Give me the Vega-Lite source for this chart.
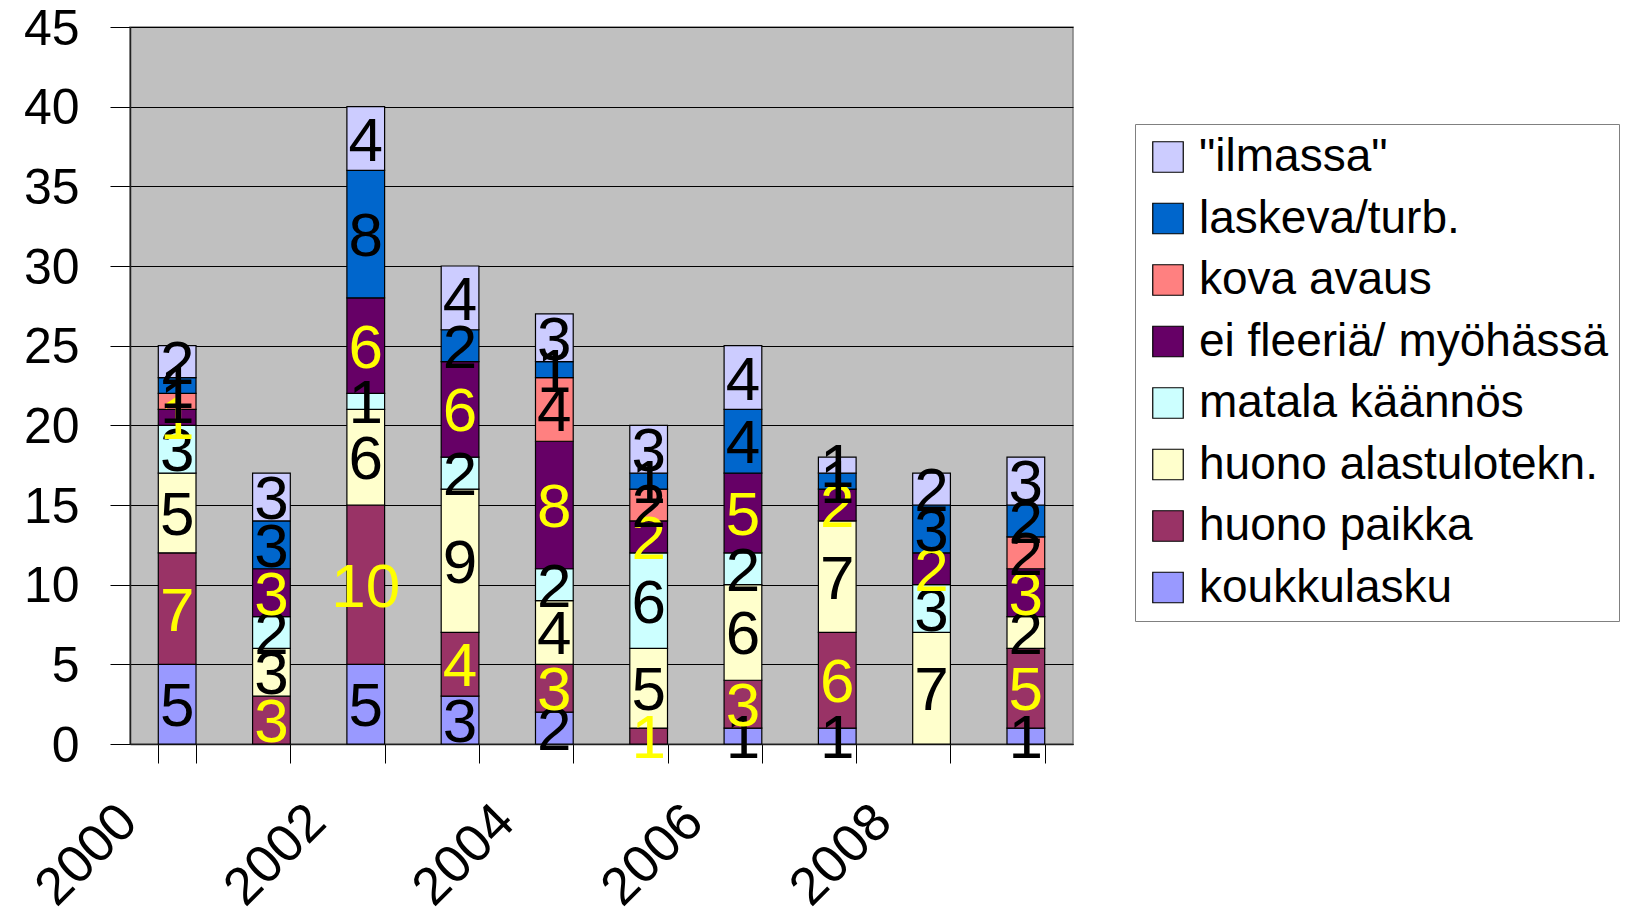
{
  "$schema": "https://vega.github.io/schema/vega-lite/v6.json",
  "width": 943,
  "height": 717,
  "autosize": "none",
  "padding": {"left": 130, "top": 27, "right": 553, "bottom": 176},
  "background": "white",
  "config": {
    "font": "Liberation Sans",
    "view": {"fill": "#C0C0C0", "stroke": "#808080", "strokeWidth": 1.5},
    "axis": {
      "labelFont": "Liberation Sans",
      "labelColor": "black",
      "tickColor": "black",
      "domainColor": "#202020",
      "tickWidth": 1,
      "domainWidth": 1.5
    }
  },
  "data": {
    "values": [
      {"year": "2000", "cause": "koukkulasku", "n": 5},
      {"year": "2000", "cause": "huono paikka", "n": 7},
      {"year": "2000", "cause": "huono alastulotekn.", "n": 5},
      {"year": "2000", "cause": "matala käännös", "n": 3},
      {"year": "2000", "cause": "ei fleeriä/ myöhässä", "n": 1},
      {"year": "2000", "cause": "kova avaus", "n": 1},
      {"year": "2000", "cause": "laskeva/turb.", "n": 1},
      {"year": "2000", "cause": "\"ilmassa\"", "n": 2},

      {"year": "2001", "cause": "huono paikka", "n": 3},
      {"year": "2001", "cause": "huono alastulotekn.", "n": 3},
      {"year": "2001", "cause": "matala käännös", "n": 2},
      {"year": "2001", "cause": "ei fleeriä/ myöhässä", "n": 3},
      {"year": "2001", "cause": "laskeva/turb.", "n": 3},
      {"year": "2001", "cause": "\"ilmassa\"", "n": 3},

      {"year": "2002", "cause": "koukkulasku", "n": 5},
      {"year": "2002", "cause": "huono paikka", "n": 10},
      {"year": "2002", "cause": "huono alastulotekn.", "n": 6},
      {"year": "2002", "cause": "matala käännös", "n": 1},
      {"year": "2002", "cause": "ei fleeriä/ myöhässä", "n": 6},
      {"year": "2002", "cause": "laskeva/turb.", "n": 8},
      {"year": "2002", "cause": "\"ilmassa\"", "n": 4},

      {"year": "2003", "cause": "koukkulasku", "n": 3},
      {"year": "2003", "cause": "huono paikka", "n": 4},
      {"year": "2003", "cause": "huono alastulotekn.", "n": 9},
      {"year": "2003", "cause": "matala käännös", "n": 2},
      {"year": "2003", "cause": "ei fleeriä/ myöhässä", "n": 6},
      {"year": "2003", "cause": "laskeva/turb.", "n": 2},
      {"year": "2003", "cause": "\"ilmassa\"", "n": 4},

      {"year": "2004", "cause": "koukkulasku", "n": 2},
      {"year": "2004", "cause": "huono paikka", "n": 3},
      {"year": "2004", "cause": "huono alastulotekn.", "n": 4},
      {"year": "2004", "cause": "matala käännös", "n": 2},
      {"year": "2004", "cause": "ei fleeriä/ myöhässä", "n": 8},
      {"year": "2004", "cause": "kova avaus", "n": 4},
      {"year": "2004", "cause": "laskeva/turb.", "n": 1},
      {"year": "2004", "cause": "\"ilmassa\"", "n": 3},

      {"year": "2005", "cause": "huono paikka", "n": 1},
      {"year": "2005", "cause": "huono alastulotekn.", "n": 5},
      {"year": "2005", "cause": "matala käännös", "n": 6},
      {"year": "2005", "cause": "ei fleeriä/ myöhässä", "n": 2},
      {"year": "2005", "cause": "kova avaus", "n": 2},
      {"year": "2005", "cause": "laskeva/turb.", "n": 1},
      {"year": "2005", "cause": "\"ilmassa\"", "n": 3},

      {"year": "2006", "cause": "koukkulasku", "n": 1},
      {"year": "2006", "cause": "huono paikka", "n": 3},
      {"year": "2006", "cause": "huono alastulotekn.", "n": 6},
      {"year": "2006", "cause": "matala käännös", "n": 2},
      {"year": "2006", "cause": "ei fleeriä/ myöhässä", "n": 5},
      {"year": "2006", "cause": "laskeva/turb.", "n": 4},
      {"year": "2006", "cause": "\"ilmassa\"", "n": 4},

      {"year": "2007", "cause": "koukkulasku", "n": 1},
      {"year": "2007", "cause": "huono paikka", "n": 6},
      {"year": "2007", "cause": "huono alastulotekn.", "n": 7},
      {"year": "2007", "cause": "ei fleeriä/ myöhässä", "n": 2},
      {"year": "2007", "cause": "laskeva/turb.", "n": 1},
      {"year": "2007", "cause": "\"ilmassa\"", "n": 1},

      {"year": "2008", "cause": "huono alastulotekn.", "n": 7},
      {"year": "2008", "cause": "matala käännös", "n": 3},
      {"year": "2008", "cause": "ei fleeriä/ myöhässä", "n": 2},
      {"year": "2008", "cause": "laskeva/turb.", "n": 3},
      {"year": "2008", "cause": "\"ilmassa\"", "n": 2},

      {"year": "2009", "cause": "koukkulasku", "n": 1},
      {"year": "2009", "cause": "huono paikka", "n": 5},
      {"year": "2009", "cause": "huono alastulotekn.", "n": 2},
      {"year": "2009", "cause": "ei fleeriä/ myöhässä", "n": 3},
      {"year": "2009", "cause": "kova avaus", "n": 2},
      {"year": "2009", "cause": "laskeva/turb.", "n": 2},
      {"year": "2009", "cause": "\"ilmassa\"", "n": 3}
    ]
  },
  "transform": [
    {
      "calculate": "indexof(['\"ilmassa\"', 'laskeva/turb.', 'kova avaus', 'ei fleeriä/ myöhässä', 'matala käännös', 'huono alastulotekn.', 'huono paikka', 'koukkulasku'], datum.cause)",
      "as": "stackRank"
    }
  ],
  "encoding": {
    "x": {
      "field": "year",
      "type": "ordinal",
      "title": null,
      "scale": {"paddingInner": 0.6, "paddingOuter": 0.3},
      "axis": {
        "tickBand": "extent",
        "tickSize": 19,
        "labelAngle": -45,
        "labelAlign": "right",
        "labelBaseline": "middle",
        "labelFontSize": 53,
        "labelOffset": -49,
        "labelPadding": 50,
        "labelExpr": "toNumber(datum.value) % 2 == 0 ? datum.label : ''",
        "grid": false
      }
    },
    "y": {
      "field": "n",
      "type": "quantitative",
      "title": null,
      "stack": "zero",
      "scale": {"domain": [0, 45], "nice": false},
      "axis": {
        "values": [0, 5, 10, 15, 20, 25, 30, 35, 40, 45],
        "tickSize": 20,
        "labelFontSize": 50,
        "labelOffset": 2,
        "labelPadding": 31,
        "grid": true,
        "gridColor": "#000000",
        "gridWidth": 1
      }
    },
    "order": {"field": "stackRank", "type": "quantitative", "sort": "descending"}
  },
  "layer": [
    {
      "mark": {"type": "bar", "stroke": "#000000", "strokeWidth": 1.2},
      "encoding": {
        "color": {
          "field": "cause",
          "type": "nominal",
          "sort": ["\"ilmassa\"", "laskeva/turb.", "kova avaus", "ei fleeriä/ myöhässä", "matala käännös", "huono alastulotekn.", "huono paikka", "koukkulasku"],
          "scale": {
            "domain": ["\"ilmassa\"", "laskeva/turb.", "kova avaus", "ei fleeriä/ myöhässä", "matala käännös", "huono alastulotekn.", "huono paikka", "koukkulasku"],
            "range": ["#CCCCFF", "#0066CC", "#FF8080", "#660066", "#CCFFFF", "#FFFFCC", "#993366", "#9999FF"]
          },
          "legend": {
            "title": null,
            "orient": "none",
            "legendX": 1005,
            "legendY": 97,
            "padding": 10,
            "strokeColor": "#808080",
            "fillColor": "#FFFFFF",
            "symbolType": "square",
            "symbolSize": 930,
            "symbolStrokeColor": "#000000",
            "symbolStrokeWidth": 1.2,
            "symbolOpacity": 1,
            "labelFont": "Liberation Sans",
            "labelFontSize": 46,
            "labelColor": "#000000",
            "labelOffset": 8,
            "labelLimit": 600,
            "rowPadding": 15.5
          }
        }
      }
    },
    {
      "mark": {"type": "text", "baseline": "middle", "align": "center", "fontSize": 62, "dy": 3, "font": "Liberation Sans"},
      "encoding": {
        "y": {"field": "n", "type": "quantitative", "stack": "zero", "bandPosition": 0.5},
        "text": {"field": "n", "type": "quantitative"},
        "color": {
          "field": "cause",
          "type": "nominal",
          "sort": ["\"ilmassa\"", "laskeva/turb.", "kova avaus", "ei fleeriä/ myöhässä", "matala käännös", "huono alastulotekn.", "huono paikka", "koukkulasku"],
          "scale": {
            "domain": ["\"ilmassa\"", "laskeva/turb.", "kova avaus", "ei fleeriä/ myöhässä", "matala käännös", "huono alastulotekn.", "huono paikka", "koukkulasku"],
            "range": ["#000000", "#000000", "#000000", "#FFFF00", "#000000", "#000000", "#FFFF00", "#000000"]
          },
          "legend": null
        }
      }
    }
  ],
  "resolve": {"scale": {"color": "independent"}, "legend": {"color": "independent"}}
}
